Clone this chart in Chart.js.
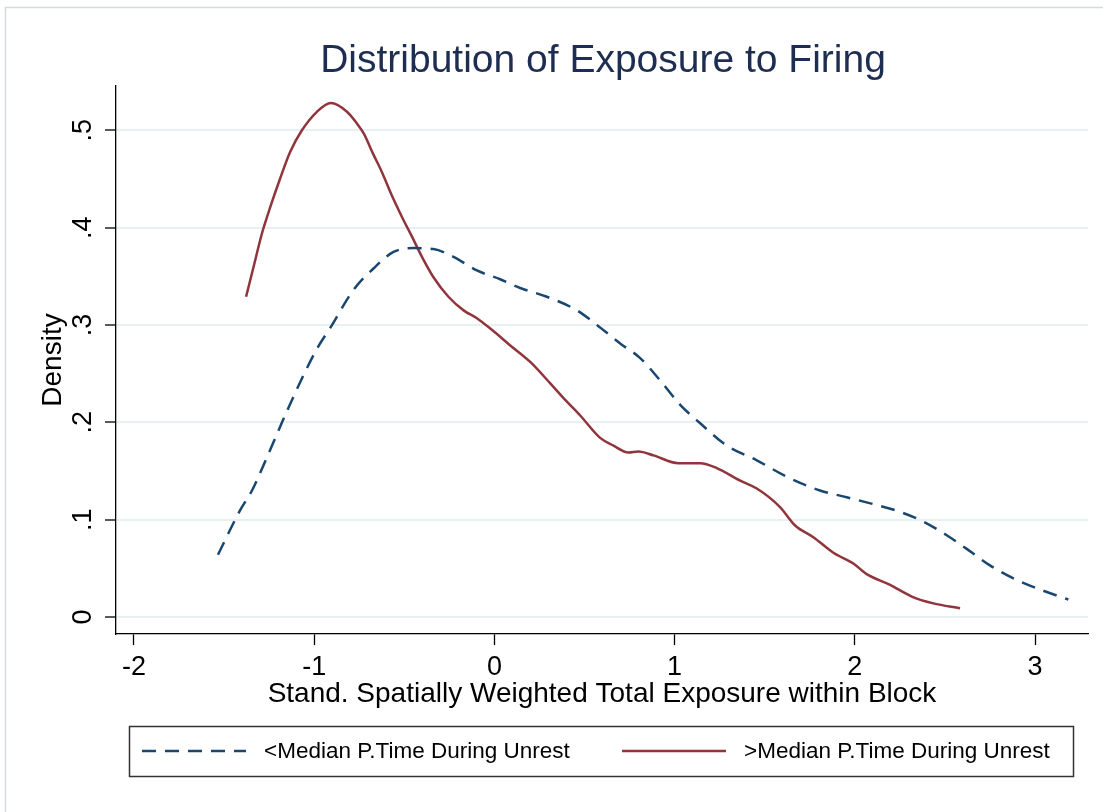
<!DOCTYPE html>
<html>
<head>
<meta charset="utf-8">
<script src="https://cdn.jsdelivr.net/npm/chart.js@4"></script>
<style>
  html, body { margin: 0; padding: 0; background: #fff; }
  #wrap { width: 1103px; height: 812px; }
</style>
</head>
<body>
<div id="wrap"><canvas id="chart" width="1103" height="812"></canvas></div>
<script>
// <Median P.Time During Unrest (dashed blue)
const lowX = [-1.534, -1.410, -1.345, -1.253, -1.150, -1.050, -0.980, -0.911, -0.782, -0.671, -0.560,
  -0.449, -0.338, -0.227, -0.097, 0.032, 0.143, 0.291, 0.458, 0.569, 0.698,
  0.809, 0.920, 1.031, 1.142, 1.290, 1.456, 1.623, 1.807, 1.955, 2.103,
  2.251, 2.380, 2.510, 2.621, 2.750, 2.899, 3.046, 3.185];
const lowY = [0.064, 0.110, 0.130, 0.168, 0.212, 0.252, 0.277, 0.297, 0.336, 0.358, 0.375,
  0.379, 0.378, 0.370, 0.356, 0.347, 0.338, 0.329, 0.315, 0.300, 0.281,
  0.266, 0.243, 0.218, 0.199, 0.176, 0.161, 0.144, 0.130, 0.123, 0.116,
  0.108, 0.098, 0.084, 0.070, 0.053, 0.038, 0.027, 0.018];

// >Median P.Time During Unrest (solid red)
const highX = [-1.378, -1.336, -1.290, -1.244, -1.188, -1.133, -1.068, -0.985, -0.907, -0.818,
  -0.763, -0.726, -0.671, -0.624, -0.569, -0.513, -0.458, -0.402, -0.338, -0.255,
  -0.171, -0.097, -0.014, 0.088, 0.199, 0.310, 0.393, 0.476, 0.587, 0.661,
  0.744, 0.799, 0.883, 1.021, 1.142, 1.234, 1.364, 1.456, 1.585, 1.669,
  1.770, 1.881, 1.992, 2.066, 2.196, 2.316, 2.436, 2.584];
const highY = [0.329, 0.360, 0.394, 0.421, 0.451, 0.478, 0.500, 0.519, 0.528, 0.519,
  0.507, 0.497, 0.475, 0.457, 0.433, 0.411, 0.391, 0.370, 0.349, 0.329,
  0.315, 0.307, 0.295, 0.279, 0.262, 0.240, 0.223, 0.207, 0.184, 0.176,
  0.169, 0.170, 0.166, 0.158, 0.158, 0.153, 0.140, 0.132, 0.113, 0.094,
  0.082, 0.066, 0.055, 0.044, 0.033, 0.021, 0.014, 0.009];

const xTicks = [-2, -1, 0, 1, 2, 3];
const yTicks = [0, 0.1, 0.2, 0.3, 0.4, 0.5];
const yTickLabels = ['0', '.1', '.2', '.3', '.4', '.5'];
const chartTitle = 'Distribution of Exposure to Firing';

const FONT = "'Liberation Sans', Arial, sans-serif";
Chart.defaults.font.family = FONT;
Chart.defaults.color = '#000';

const toPoints = (xs, ys) => xs.map((x, i) => ({ x: x, y: ys[i] }));

// title centred over the plot region, rotated y tick labels (Stata style)
const textPlugin = {
  id: 'stataText',
  afterDraw(chart) {
    const ctx = chart.ctx;
    const area = chart.chartArea;
    const y = chart.scales.y;
    ctx.save();
    ctx.font = '39px ' + FONT;
    ctx.fillStyle = '#1e2d52';
    ctx.textAlign = 'center';
    ctx.textBaseline = 'middle';
    ctx.fillText(chartTitle, (area.left + area.right) / 2 + 1, 61);

    ctx.font = '27px ' + FONT;
    ctx.fillStyle = '#000';
    yTicks.forEach((v, i) => {
      ctx.save();
      ctx.translate(84, y.getPixelForValue(v));
      ctx.rotate(-Math.PI / 2);
      ctx.fillText(yTickLabels[i], 0, 0);
      ctx.restore();
    });
    ctx.restore();
  }
};

// boxed legend under the plot + faint outer frame
const legendBoxPlugin = {
  id: 'legendBox',
  afterDraw(chart) {
    const ctx = chart.ctx;
    ctx.save();
    ctx.strokeStyle = '#d5dadd';
    ctx.lineWidth = 1.5;
    ctx.beginPath();
    ctx.moveTo(5.5, 812);
    ctx.lineTo(5.5, 7.5);
    ctx.lineTo(1103, 7.5);
    ctx.stroke();

    ctx.strokeStyle = '#333';
    ctx.lineWidth = 1.5;
    ctx.strokeRect(129.5, 726.5, 944, 50);

    const items = [
      { x0: 142, x1: 246, tx: 264 },
      { x0: 622, x1: 726, tx: 744 }
    ];
    ctx.font = '22.5px ' + FONT;
    ctx.textBaseline = 'middle';
    ctx.textAlign = 'left';
    chart.data.datasets.forEach((ds, i) => {
      const it = items[i];
      ctx.strokeStyle = ds.borderColor;
      ctx.lineWidth = ds.borderWidth;
      ctx.setLineDash(ds.borderDash || []);
      ctx.beginPath();
      ctx.moveTo(it.x0, 751);
      ctx.lineTo(it.x1, 751);
      ctx.stroke();
      ctx.setLineDash([]);
      ctx.fillStyle = '#000';
      ctx.fillText(ds.label, it.tx, 752);
    });
    ctx.restore();
  }
};

new Chart(document.getElementById('chart'), {
  type: 'line',
  data: {
    datasets: [
      {
        label: '<Median P.Time During Unrest',
        data: toPoints(lowX, lowY),
        borderColor: '#1a476f',
        borderWidth: 2.5,
        borderDash: [14, 9],
        pointRadius: 0,
        fill: false,
        cubicInterpolationMode: 'monotone'
      },
      {
        label: '>Median P.Time During Unrest',
        data: toPoints(highX, highY),
        borderColor: '#90353b',
        borderWidth: 2.5,
        pointRadius: 0,
        fill: false,
        cubicInterpolationMode: 'monotone'
      }
    ]
  },
  options: {
    responsive: false,
    animation: false,
    devicePixelRatio: 1,
    layout: { padding: { top: 86, left: 5, right: 15, bottom: 114.8 } },
    plugins: {
      legend: { display: false },
      tooltip: { enabled: false },
      title: { display: false }
    },
    scales: {
      x: {
        type: 'linear',
        min: -2.0998,
        max: 3.294,
        afterBuildTicks: s => { s.ticks = xTicks.map(v => ({ value: v })); },
        ticks: { font: { size: 27, lineHeight: 1 }, padding: 9.5, color: '#000' },
        grid: { drawOnChartArea: false, drawTicks: true, tickLength: 11, tickColor: '#000', tickWidth: 1.3 },
        border: { display: true, color: '#000', width: 1.3 },
        title: {
          display: true,
          text: 'Stand. Spatially Weighted Total Exposure within Block',
          font: { size: 28, lineHeight: 0.22 },
          padding: { top: 0, bottom: 0 }
        }
      },
      y: {
        type: 'linear',
        min: -0.0175,
        max: 0.5455,
        afterBuildTicks: s => { s.ticks = yTicks.map(v => ({ value: v })); },
        ticks: { display: false },
        grid: { color: '#e9f0f2', lineWidth: 2, drawTicks: true, tickLength: 11, tickColor: '#000', tickWidth: 1.3 },
        border: { display: true, color: '#000', width: 1.3 },
        title: {
          display: true,
          text: 'Density',
          font: { size: 28, lineHeight: 1.2 },
          padding: { top: 31.2, bottom: 35.2 }
        }
      }
    }
  },
  plugins: [textPlugin, legendBoxPlugin]
});
</script>
</body>
</html>
